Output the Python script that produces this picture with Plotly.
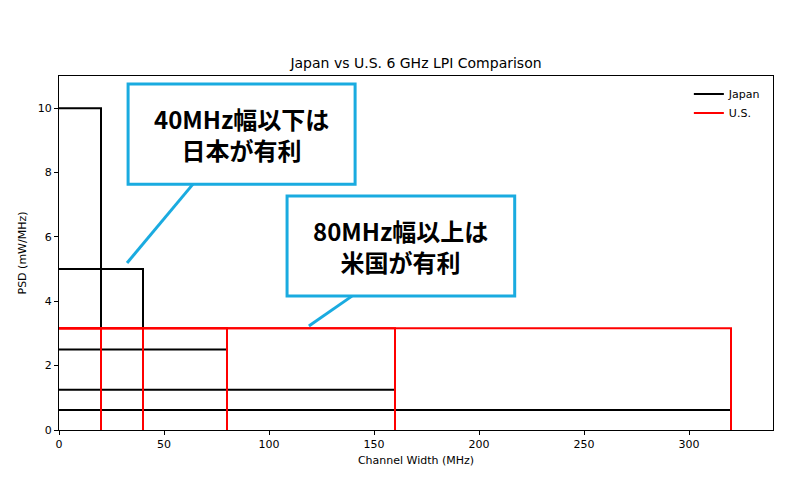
import plotly.graph_objects as go

widths = [20, 40, 80, 160, 320]
japan_psd = [10, 5, 2.5, 1.25, 0.625]
us_psd = [3.16, 3.16, 3.16, 3.16, 3.16]

def rects(ws, ps):
    xs, ys = [], []
    for w, p in zip(ws, ps):
        xs += [0, w, w, None]
        ys += [p, p, 0, None]
    return xs, ys

fig = go.Figure()
jx, jy = rects(widths, japan_psd)
ux, uy = rects(widths, us_psd)
fig.add_trace(go.Scatter(x=jx, y=jy, mode="lines", name="Japan", line=dict(color="black", width=2)))
fig.add_trace(go.Scatter(x=ux, y=uy, mode="lines", name="U.S.", line=dict(color="red", width=2)))

blue = "#1aabe0"
font = dict(family="Noto Sans CJK JP", size=24, color="black")
for (x0, x1, y0, y1, lx0, ly0, lx1, ly1, txt) in [
    (32.9, 141, 7.64, 10.75, 63.8, 7.64, 32.4, 5.19, "<b>40MHz幅以下は<br>日本が有利</b>"),
    (108.6, 217, 4.16, 7.27, 139.5, 4.16, 119, 3.23, "<b>80MHz幅以上は<br>米国が有利</b>"),
]:
    fig.add_shape(type="line", x0=lx0, y0=ly0, x1=lx1, y1=ly1, line=dict(color=blue, width=3))
    fig.add_shape(type="rect", x0=x0, x1=x1, y0=y0, y1=y1, line=dict(color=blue, width=3), fillcolor="white")
    fig.add_annotation(x=(x0 + x1) / 2, y=(y0 + y1) / 2, text=txt, showarrow=False, font=font, align="center")

axis = dict(showgrid=False, zeroline=False, showline=True, linecolor="black", mirror=True,
            ticks="outside", tickcolor="black", ticklen=4, automargin=False,
            tickfont=dict(size=11, color="black"))
fig.update_layout(
    width=800, height=500, plot_bgcolor="white", paper_bgcolor="white",
    margin=dict(l=51, r=35, t=68, b=78, autoexpand=False),
    title=dict(text="Japan vs U.S. 6 GHz LPI Comparison", x=0.51, xanchor="center",
               y=1 - 55 / 500, yanchor="middle", yref="container",
               font=dict(size=14, color="black", family="DejaVu Sans")),
    font=dict(family="DejaVu Sans", color="black"),
    xaxis=dict(axis, range=[0, 340], tickvals=[0, 50, 100, 150, 200, 250, 300],
               title=dict(text="Channel Width (MHz)", font=dict(size=11), standoff=6)),
    yaxis=dict(axis, range=[0, 11], tickvals=[0, 2, 4, 6, 8, 10],
               title=dict(text="PSD (mW/MHz)", font=dict(size=11), standoff=8)),
    legend=dict(x=0.99, y=0.99, xanchor="right", yanchor="top", bgcolor="rgba(255,255,255,0)",
                font=dict(size=11)),
)
fig.write_html("out.html")
